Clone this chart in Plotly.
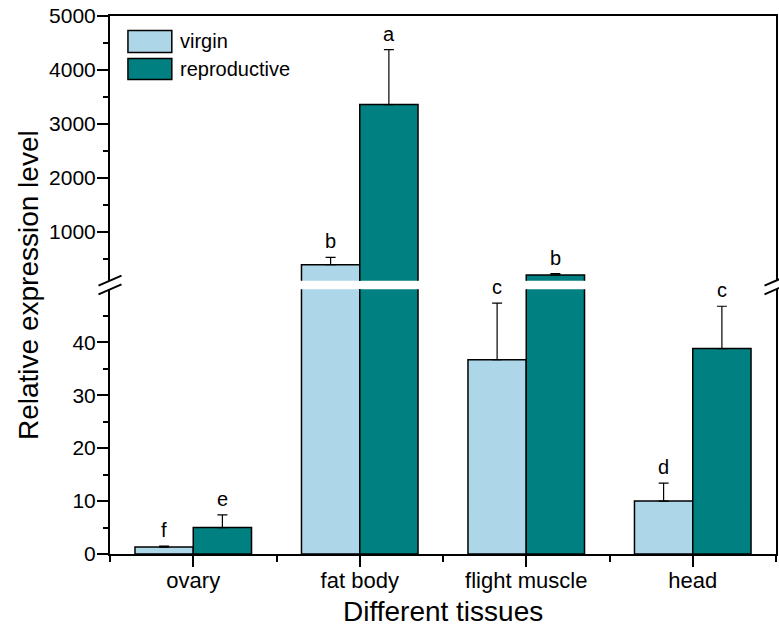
import plotly.graph_objects as go

# Expression data (mean and standard error) per tissue
tissues = ["ovary", "fat body", "flight muscle", "head"]
virgin_mean = [1.3, 396, 36.7, 10.0]
virgin_err = [0.2, 135, 10.7, 3.4]
repro_mean = [5.0, 3360, 205, 38.8]
repro_err = [2.4, 1018, 25, 8.0]
virgin_letters = ["f", "b", "c", "d"]
repro_letters = ["e", "a", "b", "c"]

series_names = ["virgin", "reproductive"]
series_colors = ["#ADD6E8", "#008080"]

LOW_MAX = 50        # top of the lower (linear) segment
HIGH_MIN = 100      # bottom of the upper segment
FONT = "Liberation Sans, Arial, sans-serif"

x_pos = list(range(len(tissues)))
bar_w = 0.35
series = [
    (series_names[0], series_colors[0], virgin_mean, virgin_err, -bar_w),
    (series_names[1], series_colors[1], repro_mean, repro_err, 0.0),
]

fig = go.Figure()
for xa, ya in (("x", "y"), ("x2", "y2")):
    for name, color, mean, err, off in series:
        fig.add_trace(go.Bar(
            x=x_pos, y=mean, name=name, width=bar_w, offset=off,
            marker=dict(color=color, line=dict(color="black", width=1.5)),
            error_y=dict(type="data", symmetric=False, array=err,
                         arrayminus=[0] * len(err), color="black",
                         thickness=1.2, width=5),
            xaxis=xa, yaxis=ya, showlegend=False,
        ))

# Significance letters above the error bars
annotations = []
for (name, color, mean, err, off), letters in zip(series, [virgin_letters, repro_letters]):
    for i, (m, e, lt) in enumerate(zip(mean, err, letters)):
        top = m + e
        annotations.append(dict(
            x=i + off + bar_w / 2, y=top,
            xref="x", yref="y2" if top > LOW_MAX else "y",
            text=lt, showarrow=False, yanchor="middle", yshift=16,
            font=dict(family=FONT, size=20, color="black"),
        ))

# Axis titles
annotations.append(dict(
    x=0, y=0.5, xref="paper", yref="paper", xshift=-82,
    text="Relative expression level", textangle=-90, showarrow=False,
    xanchor="center", yanchor="middle",
    font=dict(family=FONT, size=28, color="black"),
))
annotations.append(dict(
    x=0.5, y=0, xref="paper", yref="paper", yshift=-57,
    text="Different tissues", showarrow=False,
    xanchor="center", yanchor="middle",
    font=dict(family=FONT, size=28, color="black"),
))

# Legend drawn as outlined swatches with labels
shapes = []
plot_w, plot_h, y_bottom = 668, 538, 553.5
def px_x(p):
    return (p - 110) / plot_w
def px_y(p):
    return (y_bottom - p) / plot_h

legend_rows = [(30, 52), (58, 79)]
for (y0, y1), name, color in zip(legend_rows, series_names, series_colors):
    shapes.append(dict(type="rect", xref="paper", yref="paper",
                       x0=px_x(128), x1=px_x(172), y0=px_y(y1), y1=px_y(y0),
                       fillcolor=color, line=dict(color="black", width=1.5)))
    annotations.append(dict(
        x=px_x(178), y=px_y((y0 + y1) / 2), xref="paper", yref="paper",
        text=name, showarrow=False, xanchor="left", yanchor="middle",
        font=dict(family=FONT, size=20, color="black"),
    ))

# Axis break marks on both vertical edges
low_top, high_bottom = 0.492, 0.508
for xa in (0, 1):
    for ya in (low_top, high_bottom):
        shapes.append(dict(type="line", xref="paper", yref="paper",
                           xsizemode="pixel", ysizemode="pixel",
                           xanchor=xa, yanchor=ya,
                           x0=-11.5, x1=11.5, y0=-5, y1=5,
                           line=dict(color="black", width=2)))

y_tick_font = dict(family=FONT, size=21, color="black")
x_tick_font = dict(family=FONT, size=22, color="black")
fig.update_layout(
    width=779, height=626,
    margin=dict(l=110, r=1, t=16, b=72),
    paper_bgcolor="white", plot_bgcolor="white",
    showlegend=False,
    annotations=annotations, shapes=shapes,
    xaxis=dict(
        anchor="y", domain=[0, 1], range=[-0.5, 3.5],
        tickmode="array", tickvals=x_pos, ticktext=tissues,
        ticks="outside", ticklen=11, tickwidth=2, tickcolor="black",
        ticklabelstandoff=-5,
        minor=dict(tickmode="array", tickvals=[-0.5, 0.5, 1.5, 2.5, 3.5],
                   ticks="outside", ticklen=6, tickwidth=2, tickcolor="black"),
        showline=True, linecolor="black", linewidth=2,
        showgrid=False, zeroline=False, tickfont=x_tick_font, fixedrange=True,
    ),
    xaxis2=dict(
        anchor="y2", matches="x", side="top", range=[-0.5, 3.5],
        showticklabels=False, ticks="",
        showline=True, linecolor="black", linewidth=2,
        showgrid=False, zeroline=False,
    ),
    yaxis=dict(
        anchor="x", domain=[0, low_top], range=[0, LOW_MAX],
        tickmode="array", tickvals=[0, 10, 20, 30, 40],
        ticks="outside", ticklen=11, tickwidth=2, tickcolor="black",
        ticklabelstandoff=-3,
        minor=dict(tickmode="array", tickvals=[5, 15, 25, 35, 45],
                   ticks="outside", ticklen=5, tickwidth=2, tickcolor="black"),
        showline=True, mirror=True, linecolor="black", linewidth=2,
        showgrid=False, zeroline=False, tickfont=y_tick_font,
    ),
    yaxis2=dict(
        anchor="x2", domain=[high_bottom, 1], range=[HIGH_MIN, 5000],
        tickmode="array", tickvals=[1000, 2000, 3000, 4000, 5000],
        ticks="outside", ticklen=11, tickwidth=2, tickcolor="black",
        ticklabelstandoff=-3,
        minor=dict(tickmode="array", tickvals=[500, 1500, 2500, 3500, 4500],
                   ticks="outside", ticklen=5, tickwidth=2, tickcolor="black"),
        showline=True, mirror=True, linecolor="black", linewidth=2,
        showgrid=False, zeroline=False, tickfont=y_tick_font,
    ),
)

fig.write_html("out.html")
